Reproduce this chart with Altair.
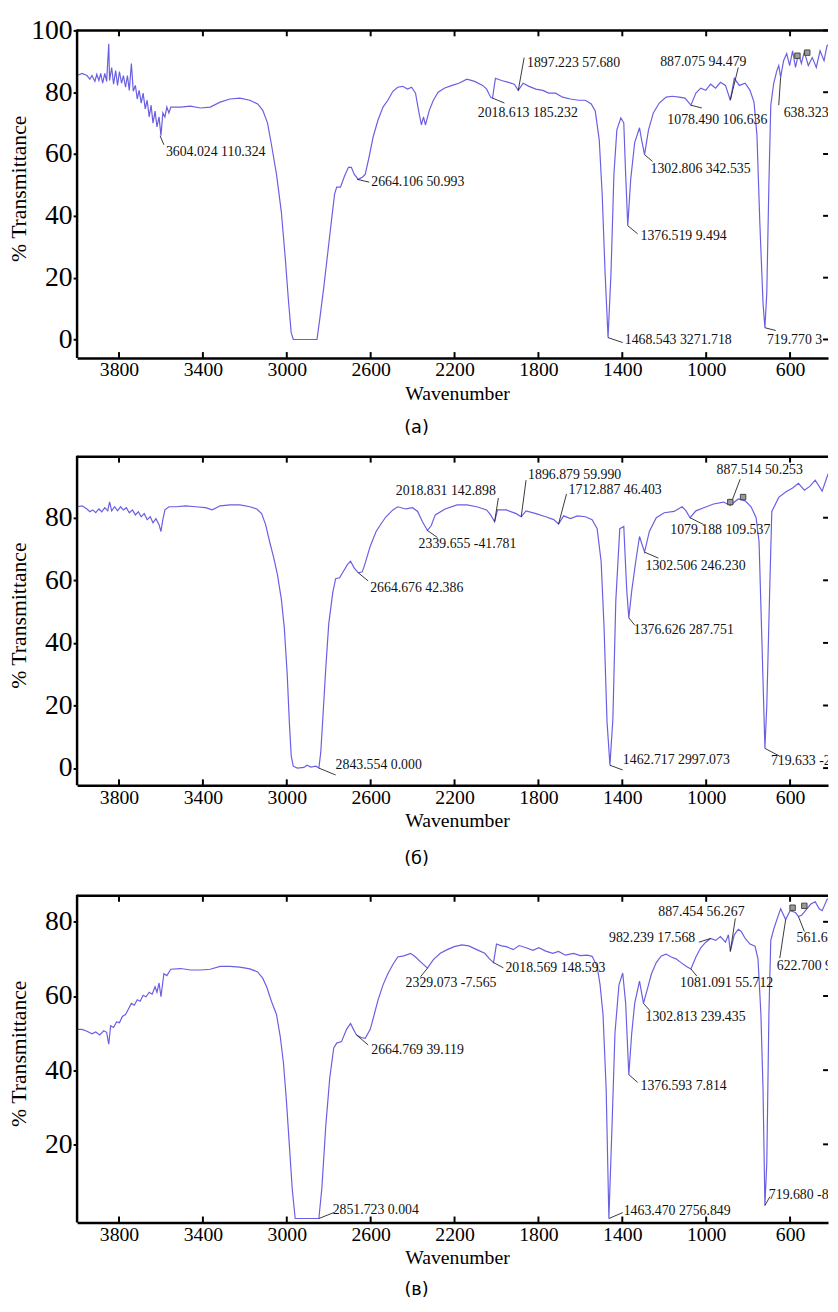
import altair as alt
import pandas as pd

FONT = "Liberation Serif"
LINE = "#6a5fe3"
X_DOMAIN = [419, 4000]
W = 761
XTICKS = [3800, 3400, 3000, 2600, 2200, 1800, 1400, 1000, 600]

# ---------------- panel (а) ----------------
a_wn = [4000,3976,3953,3939,3929,3915,3906,3896,3887,3878,
        3868,3859,3849,3845,3835,3826,3816,3807,3798,3788,
        3779,3769,3760,3751,3741,3732,3722,3713,3704,3694,
        3685,3675,3666,3656,3647,3638,3628,3619,3609,3600,
        3591,3581,3572,3562,3553,3506,3459,3412,3365,3318,
        3271,3224,3176,3139,3115,3092,3073,3049,3026,3007,
        2993,2979,2969,2856,2842,2824,2805,2786,2772,2762,
        2744,2725,2706,2692,2678,2659,2640,2626,2607,2588,
        2565,2541,2518,2494,2471,2447,2424,2405,2386,2372,
        2358,2348,2339,2320,2301,2278,2249,2212,2179,2141,
        2104,2066,2047,2028,2019,2005,1976,1943,1915,1896,
        1873,1845,1812,1779,1751,1718,1685,1647,1609,1576,
        1548,1529,1510,1496,1482,1468,1454,1440,1426,1407,
        1393,1384,1374,1360,1341,1318,1308,1294,1275,1252,
        1224,1191,1162,1129,1101,1073,1049,1026,1002,979,
        955,932,908,885,866,842,814,791,772,758,
        744,729,720,711,701,692,678,663,654,645,
        631,616,602,588,574,560,546,532,513,494,
        475,457,438,424,412]
a_t = [85.4,86.1,85.4,84.2,85.4,83.5,85.8,83.8,86.1,82.9,
       86.1,83.5,95.7,83.8,88,82.6,87,82.2,86.7,82.9,
       85.4,81.6,85.4,80.6,89.3,80.3,82.2,77.8,80.6,76.5,
       79.7,74.6,77.4,72,75.8,70,73.9,68.8,72,65.9,
       73.3,72,75.2,73.3,75.2,75.2,75.5,74.9,75.2,76.8,
       77.8,78.1,77.4,76.2,74.2,70.1,63,53.4,41.3,26.2,
       13.4,2.2,0,0,7,16.6,27.8,39,47,49.3,
       49.3,52.8,55.7,55.7,53.4,51.8,52.5,53.4,59.2,65.6,
       71,75.2,77.4,80.3,81.6,81.9,81,81.6,79.7,74.2,
       69.4,72,69.4,74.2,77.4,80,81.3,82.2,82.9,84.2,
       83.5,82.2,81,78.4,78.1,84.5,83.8,83.2,82.6,80.6,
       82.9,81.9,81,80.6,79.7,79.7,78.4,77.8,77.4,77.4,
       76.2,73.9,64.6,47,21.4,0.6,21.4,53.4,67.8,71.7,
       70.1,53.4,36.8,51.8,63.7,68.5,64.6,59.8,67.8,73.3,
       76.5,78.4,78.7,78.4,78.1,75.8,79.7,81.3,80.6,82.6,
       81.3,83.2,82.2,77.4,84.5,82.2,82.9,80.6,76.8,66.2,
       37.4,11.8,3.8,15,50.2,75.8,82.9,87,88.6,84.8,
       90.2,92.5,88.6,93.4,88,92.5,89.3,93.1,88.6,91.2,
       88,93.4,90.2,95,95.7]
a_lab = ["3604.024 110.324", "2664.106 50.993", "2018.613 185.232", "1897.223 57.680",
         "887.075 94.479", "1078.490 106.636", "638.323", "1302.806 342.535",
         "1376.519 9.494", "1468.543 3271.718", "719.770 3"]
a_pk_wn = [3604, 2664, 2019, 1896, 885, 1073, 645, 1294, 1374, 1468, 720]
a_pk_t = [65.9, 51.8, 78.1, 80.6, 77.4, 75.8, 84.8, 59.8, 36.8, 0.6, 3.8]
a_end_wn = [3586, 2607, 1962, 1868, 847, 1021, 654, 1256, 1327, 1398, 668]
a_end_t = [63.0, 50.9, 76.5, 91.2, 88.0, 74.9, 75.8, 57.6, 34.2, -1.0, 2.9]
a_txt_wn = [3581, 2602, 2094, 1859, 1224, 1190, 635, 1270, 1318, 1393, 715]
a_txt_t = [60.5, 50.9, 73.3, 89.3, 89.9, 71.0, 73.3, 55.0, 33.6, -0.3, -0.3]
a_sq_wn = [565, 518]
a_sq_t = [91.8, 92.8]
a_yticks = [0, 20, 40, 60, 80, 100]

# ---------------- panel (б) ----------------
b_wn = [4000,3976,3953,3939,3925,3911,3896,3882,3868,3854,
        3845,3835,3821,3807,3793,3779,3765,3751,3736,3722,
        3708,3694,3680,3666,3651,3638,3624,3609,3600,3591,
        3581,3562,3529,3482,3435,3388,3355,3318,3271,3224,
        3176,3143,3120,3101,3082,3063,3045,3026,3012,2998,
        2988,2979,2969,2950,2918,2904,2885,2861,2847,2838,
        2828,2814,2800,2781,2767,2748,2729,2711,2696,2678,
        2659,2640,2626,2602,2574,2551,2527,2494,2471,2433,
        2400,2376,2353,2329,2311,2292,2245,2188,2141,2094,
        2047,2028,2009,1995,1953,1906,1882,1859,1812,1765,
        1727,1704,1680,1647,1614,1576,1544,1520,1501,1487,
        1473,1459,1445,1431,1412,1393,1379,1369,1355,1336,
        1318,1294,1271,1238,1200,1153,1115,1096,1077,1049,
        1012,965,918,885,847,814,786,762,748,734,
        720,711,696,687,654,621,588,560,532,506,
        480,447,424,412]
b_t = [83.5,83.8,82.8,81.9,82.5,81.6,82.8,81.9,83.2,82.2,
       85.1,82.2,83.5,82.2,83.5,82.5,83.2,81.6,82.5,80.9,
       81.9,80.3,81.3,79.4,80.3,78.4,79.7,77.8,75.6,79.4,
       82.5,83.5,83.5,83.8,83.5,83.2,82.5,83.8,84.1,84.1,
       83.5,82.8,81.3,77.8,72.4,67.4,62,54,45,30,
       15,4,0.6,0,0.2,0.9,0.3,0.6,0,5,
       16,32,46,56,60.5,60.8,63,65,66.1,63.9,
       62.4,62.7,65.5,70.9,75.6,78,80.3,82.5,83.5,82.8,
       83.2,82,78.7,75.9,77.5,80.9,82.8,84.1,84.1,83.5,
       82.5,80.9,78.7,82.5,82.5,81.3,80.3,82.2,81.3,80.3,
       79.4,78,80.6,79.7,80.6,80.3,79.4,76.5,66,45,
       15,0.9,15.7,53.5,76.5,77.2,57,48,56.7,66,
       74,69,75.6,80,81.6,82,83.5,82.2,80,82.2,
       83.2,84.4,85,84,86,85.4,83.5,80,72.4,40,
       6.3,20,60,82,86.5,88.2,89.5,91,88.8,90,
       92,88.5,93,95]
b_lab = ["2843.554 0.000", "2664.676 42.386", "2339.655 -41.781", "2018.831 142.898",
         "1896.879 59.990", "1712.887 46.403", "887.514 50.253", "1079.188 109.537",
         "1302.506 246.230", "1376.626 287.751", "1462.717 2997.073", "719.633 -2"]
b_pk_wn = [2847, 2659, 2329, 2009, 1882, 1704, 885, 1077, 1294, 1369, 1459, 720]
b_pk_t = [0, 62.4, 75.9, 78.7, 80.3, 78.0, 84.0, 80.0, 69.0, 48.0, 0.9, 6.3]
b_end_wn = [2767, 2612, 2282, 1991, 1859, 1666, 838, 1012, 1228, 1341, 1398, 649]
b_end_t = [-2.2, 59.8, 73.7, 86.3, 92.0, 87.6, 92.3, 77.8, 67.1, 45.7, -0.6, 3.8]
b_txt_wn = [2772, 2607, 2376, 2485, 1854, 1661, 955, 1176, 1294, 1350, 1402, 696]
b_txt_t = [1.0, 57.6, 71.5, 88.5, 93.5, 88.8, 95.1, 76.2, 64.6, 44.1, 2.5, 2.2]
b_sq_wn = [885, 824]
b_sq_t = [85.0, 86.6]
b_yticks = [0, 20, 40, 60, 80]

# ---------------- panel (в) ----------------
c_wn = [4000,3976,3953,3929,3911,3892,3873,3859,3849,3840,
        3826,3812,3798,3784,3769,3755,3741,3727,3713,3699,
        3685,3671,3656,3642,3628,3619,3609,3600,3586,3572,
        3553,3506,3459,3412,3365,3318,3271,3224,3176,3139,
        3115,3096,3073,3049,3031,3016,3002,2988,2974,2960,
        2847,2833,2814,2795,2776,2762,2739,2715,2696,2682,
        2668,2645,2626,2602,2583,2565,2541,2518,2494,2471,
        2442,2409,2386,2358,2329,2301,2268,2235,2202,2165,
        2132,2094,2056,2033,2014,2000,1976,1953,1920,1892,
        1859,1826,1798,1765,1732,1704,1671,1633,1600,1567,
        1544,1520,1506,1492,1477,1464,1449,1435,1416,1398,
        1384,1369,1355,1341,1318,1299,1280,1261,1238,1214,
        1191,1167,1144,1120,1096,1073,1049,1026,1002,979,
        955,932,908,894,885,866,847,833,814,791,
        767,753,739,729,720,711,701,692,678,663,
        645,621,600,574,560,544,520,501,480,461,
        447,424,412]
c_t = [51,51,50.5,49.8,50.3,49.5,50.6,50.2,47,52,
       51.5,53,52.8,54.5,55,56.5,58,57.5,59,58.6,
       60.2,59.8,61,60.5,62.5,61,63.5,59.8,66,65.5,
       67.2,67.4,67,67,67.2,68,68,67.8,67.3,66.5,
       64.8,62.5,58.5,55,49,42,32,20,8,0,
       0,8,25,38,46,47.3,47.7,51,52.6,51,
       49.5,48.8,48.6,51,55,58.9,63,66,68.5,70.5,
       70.8,71.5,70.5,69,67.5,69.8,71.5,72.5,73.3,73.8,
       73.5,72.5,71.5,70,69,74,73.5,73.3,72.5,73.6,
       73,72.3,73,72.1,71.5,72,71,71.5,70.9,71,
       70.7,68,63,55,35,0,25,50,63,66.2,
       58,38.8,50,58,64,58,62,66,69,70.8,
       71.3,70.5,70,69,68,67.3,70.5,73,74.5,75.5,
       75,76,74.5,76.5,72,76.5,78,77.4,75.5,74,
       73.4,70,55,35,3.5,15,55,75,78,80.6,
       83.5,80.6,83,82.5,81.4,81.8,83.5,84.8,85.4,83.5,
       83,86,86.5]
c_lab = ["2851.723 0.004", "2664.769 39.119", "2329.073 -7.565", "2018.569 148.593",
         "982.239 17.568", "887.454 56.267", "1081.091 55.712", "1302.813 239.435",
         "1376.593 7.814", "1463.470 2756.849", "719.680 -8", "622.700 9", "561.68"]
c_pk_wn = [2847, 2668, 2329, 2014, 979, 885, 1073, 1299, 1369, 1464, 720, 621, 560]
c_pk_t = [0, 49.5, 67.5, 69.0, 75.5, 72.0, 67.3, 58.0, 38.8, 0, 3.5, 80.6, 81.4]
c_end_wn = [2776, 2612, 2362, 1967, 1035, 861, 1045, 1266, 1327, 1398, 696, 649, 532]
c_end_t = [1.6, 46.8, 65.2, 67.6, 74.5, 80.9, 65.4, 55.9, 36.7, 1.6, 5.9, 70.2, 77.4]
c_txt_wn = [2786, 2602, 2438, 1962, 1468, 1233, 1129, 1294, 1318, 1398, 706, 668, 574]
c_txt_t = [2.4, 45.5, 63.6, 67.6, 75.5, 82.7, 63.6, 54.3, 35.6, 2.1, 6.4, 68.1, 75.5]
c_sq_wn = [588, 532]
c_sq_t = [83.8, 84.3]
c_yticks = [20, 40, 60, 80]


def panel(wn, t, lab, pkw, pkt, enw, ent, txw, txt, sqw, sqt,
          ydom, yticks, h, top_off, caption, cap_y):
    xs = alt.Scale(domain=X_DOMAIN, reverse=True, nice=False, zero=False)
    ys = alt.Scale(domain=ydom, nice=False, zero=False)
    xax = alt.Axis(
        values=XTICKS, format="d", grid=False, ticks=False, domain=True,
        domainColor="black", domainWidth=2.5,
        labelFont=FONT, labelFontSize=20, labelColor="black", labelPadding=2,
        labelFlush=False, labelOverlap=False,
        title="Wavenumber", titleFont=FONT, titleFontSize=20,
        titleFontWeight="normal", titleColor="black",
        titleX=385, titleY=36, titleBaseline="middle")
    yax = alt.Axis(
        values=yticks, format="d", grid=False, domain=False, ticks=True,
        tickSize=4, tickWidth=2, tickColor="black",
        labelFont=FONT, labelFontSize=28, labelColor="black", labelPadding=1,
        labelFlush=False, labelOverlap=False,
        title="% Transmittance", titleFont=FONT, titleFontSize=22,
        titleFontWeight="normal", titleColor="black",
        titleX=-47, titleY=top_off + (h - top_off) / 2 - 6)
    one = pd.DataFrame({"k": [0]})

    line = alt.Chart(pd.DataFrame({"wn": wn, "t": t})).mark_line(
        color=LINE, strokeWidth=1.2, clip=True
    ).encode(
        x=alt.X("wn:Q", scale=xs, axis=xax),
        y=alt.Y("t:Q", scale=ys, axis=yax),
    )

    ann = pd.DataFrame({"lab": lab, "pw": pkw, "pt": pkt, "ew": enw, "et": ent,
                        "tw": txw, "tt": txt})
    leaders = alt.Chart(ann).mark_rule(color="#222", strokeWidth=0.9, clip=True).encode(
        x=alt.X("pw:Q", scale=xs, axis=xax), x2="ew:Q",
        y=alt.Y("pt:Q", scale=ys, axis=yax), y2="et:Q")
    texts = alt.Chart(ann).mark_text(
        align="left", baseline="middle", font=FONT, fontSize=14, color="#111",
        clip=True, dx=1
    ).encode(x=alt.X("tw:Q", scale=xs, axis=xax),
             y=alt.Y("tt:Q", scale=ys, axis=yax), text="lab:N")

    squares = alt.Chart(pd.DataFrame({"w": sqw, "v": sqt})).mark_point(
        shape="square", filled=True, size=30, color="#9a9a9a",
        stroke="#444", strokeWidth=1, opacity=1, clip=True
    ).encode(x=alt.X("w:Q", scale=xs, axis=xax), y=alt.Y("v:Q", scale=ys, axis=yax))

    top_line = alt.Chart(one).mark_rule(color="black", strokeWidth=2.5).encode(
        x=alt.value(0), x2=alt.value(W), y=alt.value(top_off))
    left_line = alt.Chart(one).mark_rule(color="black", strokeWidth=2.5).encode(
        x=alt.value(0), y=alt.value(top_off - 1), y2=alt.value(h))

    xt = pd.DataFrame({"xt": XTICKS})
    bot_ticks = alt.Chart(xt).mark_rule(color="black", strokeWidth=2).encode(
        x=alt.X("xt:Q", scale=xs, axis=xax), y=alt.value(h), y2=alt.value(h - 6))
    top_ticks = alt.Chart(xt).mark_rule(color="black", strokeWidth=2).encode(
        x=alt.X("xt:Q", scale=xs, axis=xax), y=alt.value(top_off), y2=alt.value(top_off + 6))
    right_ticks = alt.Chart(pd.DataFrame({"yt": yticks})).mark_rule(
        color="black", strokeWidth=2).encode(
        y=alt.Y("yt:Q", scale=ys, axis=yax), x=alt.value(W - 5), x2=alt.value(W))

    cap = alt.Chart(pd.DataFrame({"c": [caption]})).mark_text(
        font="DejaVu Sans", fontSize=18, color="black", baseline="middle"
    ).encode(x=alt.value(344), y=alt.value(cap_y), text="c:N")

    return alt.layer(line, leaders, texts, squares, top_line, left_line,
                     bot_ticks, top_ticks, right_ticks, cap).properties(width=W, height=h)


pa = panel(a_wn, a_t, a_lab, a_pk_wn, a_pk_t, a_end_wn, a_end_t, a_txt_wn, a_txt_t,
           a_sq_wn, a_sq_t, [-6, 100], a_yticks, 332, 0, "(а)", 403)
pb = panel(b_wn, b_t, b_lab, b_pk_wn, b_pk_t, b_end_wn, b_end_t, b_txt_wn, b_txt_t,
           b_sq_wn, b_sq_t, [-5.5, 99.5], b_yticks, 333, 0, "(б)", 408)
pc = panel(c_wn, c_t, c_lab, c_pk_wn, c_pk_t, c_end_wn, c_end_t, c_txt_wn, c_txt_t,
           c_sq_wn, c_sq_t, [-1.06, 90.2], c_yticks, 343, 12, "(в)", 412)

chart = alt.vconcat(pa, pb, pc, spacing=100, bounds="flush").properties(
    padding={"left": 0, "top": 0, "right": 0, "bottom": 0},
    background="white"
).configure_view(stroke=None, strokeWidth=0)

chart.save("out.html", embed_options={"renderer": "svg", "actions": False})
